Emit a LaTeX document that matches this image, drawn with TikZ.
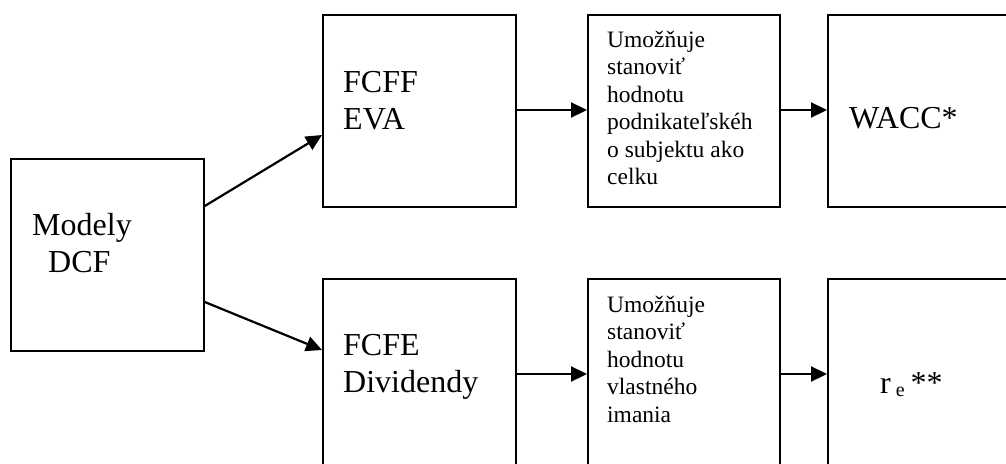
\documentclass[tikz,border=0pt]{standalone}
\usepackage{fontspec}
\setmainfont{Liberation Serif}
\usetikzlibrary{arrows.meta}
\begin{document}
\begin{tikzpicture}[x=1pt,y=-1pt,
  box/.style={draw,line width=1.8pt,anchor=north west,minimum width=193pt,minimum height=192pt,inner sep=0pt},
  arr/.style={line width=2.2pt,-{Triangle[length=16pt,width=15pt]}},
  big/.style={anchor=base west,inner sep=0pt,font=\fontsize{32}{37.7}\selectfont},
  small/.style={anchor=base west,inner sep=0pt,font=\fontsize{23.5}{27.5}\selectfont}]
\useasboundingbox (0,0) rectangle (1006,463);
\clip (0,0) rectangle (1006,463);
% boxes
\node[box] (m) at (10,158) {};
\node[box] (f1) at (322,14) {};
\node[box,minimum width=192pt] (u1) at (587,14) {};
\node[box] (w) at (827,14) {};
\node[box] (f2) at (322,278) {};
\node[box,minimum width=192pt] (u2) at (587,278) {};
\node[box] (r) at (827,278) {};
% texts
\node[big] (tm) at (32,235) {\begin{tabular}[t]{@{}l@{}}Modely\\\hspace{16pt}DCF\end{tabular}};
\node[big] (tf1) at (343,92) {\begin{tabular}[t]{@{}l@{}}FCFF\\EVA\end{tabular}};
\node[big] (tf2) at (343,355) {\begin{tabular}[t]{@{}l@{}}FCFE\\Dividendy\end{tabular}};
\node[small] (tu1) at (607,47) {\begin{tabular}[t]{@{}l@{}}Umožňuje\\stanoviť\\hodnotu\\podnikateľskéh\\o subjektu ako\\celku\end{tabular}};
\node[small] (tu2) at (607,312) {\begin{tabular}[t]{@{}l@{}}Umožňuje\\stanoviť\\hodnotu\\vlastného\\imania\end{tabular}};
\node[big] (tw) at (849,128) {WACC*};
\node[big] (tr) at (880,393) {r\hspace{5pt}\raisebox{-3pt}{\fontsize{20}{20}\selectfont e}\hspace{6pt}**};
% connectors
\draw[arr] ([yshift=-48pt]m.north east) -- ([yshift=-121pt]f1.north west);
\draw[arr] ([yshift=-144pt]m.north east) -- ([yshift=-72pt]f2.north west);
\draw[arr] ([yshift=-96pt]f1.north east) -- ([yshift=-96pt]u1.north west);
\draw[arr] ([yshift=-96pt]u1.north east) -- ([yshift=-96pt]w.north west);
\draw[arr] ([yshift=-96pt]f2.north east) -- ([yshift=-96pt]u2.north west);
\draw[arr] ([yshift=-96pt]u2.north east) -- ([yshift=-96pt]r.north west);
\end{tikzpicture}
\end{document}
